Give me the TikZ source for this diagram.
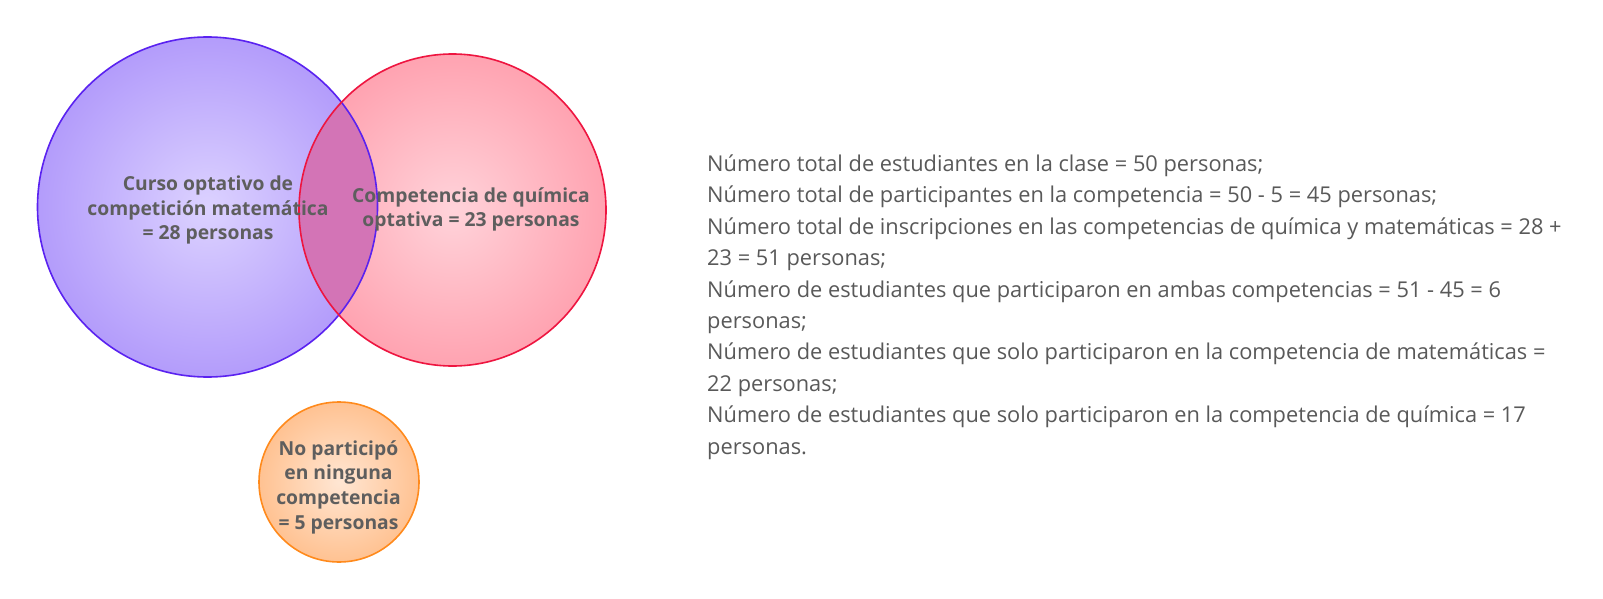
\documentclass[tikz,border=0pt]{standalone}
\usepackage{fontspec}
\setmainfont{Open Sans}
\usetikzlibrary{shapes.geometric}
\definecolor{purpleLine}{HTML}{5A22F0}
\definecolor{purpleIn}{HTML}{DCD2FF}
\definecolor{purpleOut}{HTML}{B39CFB}
\definecolor{redLine}{HTML}{EE1540}
\definecolor{redIn}{HTML}{FFD3DA}
\definecolor{redOut}{HTML}{FFA3B1}
\definecolor{orangeLine}{HTML}{FF8A1C}
\definecolor{orangeIn}{HTML}{FFE6D3}
\definecolor{orangeOut}{HTML}{FFC292}
\definecolor{overlapCol}{HTML}{D374B6}
\definecolor{boldGray}{HTML}{5E5E5E}
\definecolor{textGray}{HTML}{595959}
\begin{document}
\begin{tikzpicture}[x=1pt,y=-1pt,
  venn/.style={ellipse, inner sep=0pt, outer sep=0pt},
  boldtxt/.style={align=center, text=boldGray, font=\fontsize{19.3}{24.7}\selectfont\bfseries, inner sep=0pt},
  notes/.style={align=left, text=textGray, font=\fontsize{21.8}{31.4}\selectfont, inner sep=0pt, anchor=north west}]
\useasboundingbox[fill=white] (0,0) rectangle (1603,599);
% fills
\node[venn, minimum width=340pt, minimum height=340pt, inner color=purpleIn, outer color=purpleOut] (math) at (207.5,207) {};
\node[venn, minimum width=307pt, minimum height=312pt, inner color=redIn, outer color=redOut] (chem) at (452.5,210) {};
\begin{scope}
  \clip (math.center) ellipse [x radius=170pt, y radius=170pt];
  \fill[overlapCol] (chem.center) ellipse [x radius=153.5pt, y radius=156pt];
\end{scope}
% borders
\node[venn, draw=purpleLine, line width=1.6pt, minimum width=340pt, minimum height=340pt] (mathb) at (math.center) {};
\node[venn, draw=redLine, line width=1.6pt, minimum width=307pt, minimum height=312pt] (chemb) at (chem.center) {};
\node[venn, draw=orangeLine, line width=1.6pt, minimum width=160pt, minimum height=160pt, inner color=orangeIn, outer color=orangeOut] (none) at (339,482) {};
% labels
\node[boldtxt] (mathtxt) at (208,210) {Curso optativo de\\competición matemática\\= 28 personas};
\node[boldtxt] (chemtxt) at (471,209.5) {Competencia de química\\optativa = 23 personas};
\node[boldtxt] (nonetxt) at (338.5,487) {No participó\\en ninguna\\competencia\\= 5 personas};
% notes
\node[notes] (calc) at (707,154.5) {Número total de estudiantes en la clase = 50 personas;\\
Número total de participantes en la competencia = 50 - 5 = 45 personas;\\
Número total de inscripciones en las competencias de química y matemáticas = 28 +\\
23 = 51 personas;\\
Número de estudiantes que participaron en ambas competencias = 51 - 45 = 6\\
personas;\\
Número de estudiantes que solo participaron en la competencia de matemáticas =\\
22 personas;\\
Número de estudiantes que solo participaron en la competencia de química = 17\\
personas.};
\end{tikzpicture}
\end{document}
